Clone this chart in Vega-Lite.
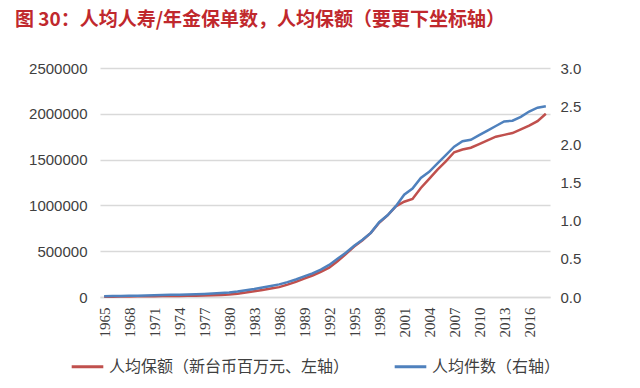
{
  "$schema": "https://vega.github.io/schema/vega-lite/v6.json",
  "width": 450,
  "height": 229,
  "autosize": {"type": "none"},
  "padding": {"left": 100, "top": 68, "right": 90, "bottom": 91},
  "background": "white",
  "title": {
    "text": "图 30：人均人寿/年金保单数，人均保额（要更下坐标轴）",
    "anchor": "start",
    "frame": "group",
    "dx": -85,
    "offset": 31,
    "font": "Noto Sans CJK SC",
    "fontSize": 19,
    "fontWeight": "bold",
    "color": "#c0282d"
  },
  "data": {
    "values": [
      {"year": 1965, "amount": 3000, "count": 0.010},
      {"year": 1966, "amount": 4000, "count": 0.012},
      {"year": 1967, "amount": 5000, "count": 0.014},
      {"year": 1968, "amount": 6000, "count": 0.016},
      {"year": 1969, "amount": 7000, "count": 0.018},
      {"year": 1970, "amount": 8000, "count": 0.020},
      {"year": 1971, "amount": 9000, "count": 0.022},
      {"year": 1972, "amount": 10000, "count": 0.025},
      {"year": 1973, "amount": 11000, "count": 0.028},
      {"year": 1974, "amount": 12000, "count": 0.030},
      {"year": 1975, "amount": 13000, "count": 0.033},
      {"year": 1976, "amount": 15000, "count": 0.036},
      {"year": 1977, "amount": 17000, "count": 0.040},
      {"year": 1978, "amount": 19000, "count": 0.045},
      {"year": 1979, "amount": 22000, "count": 0.052},
      {"year": 1980, "amount": 26000, "count": 0.060},
      {"year": 1981, "amount": 35000, "count": 0.072},
      {"year": 1982, "amount": 48000, "count": 0.088},
      {"year": 1983, "amount": 62000, "count": 0.105},
      {"year": 1984, "amount": 77000, "count": 0.125},
      {"year": 1985, "amount": 92000, "count": 0.145},
      {"year": 1986, "amount": 108000, "count": 0.165},
      {"year": 1987, "amount": 135000, "count": 0.195},
      {"year": 1988, "amount": 165000, "count": 0.230},
      {"year": 1989, "amount": 200000, "count": 0.270},
      {"year": 1990, "amount": 235000, "count": 0.310},
      {"year": 1991, "amount": 275000, "count": 0.360},
      {"year": 1992, "amount": 320000, "count": 0.420},
      {"year": 1993, "amount": 390000, "count": 0.500},
      {"year": 1994, "amount": 470000, "count": 0.580},
      {"year": 1995, "amount": 550000, "count": 0.670},
      {"year": 1996, "amount": 620000, "count": 0.750},
      {"year": 1997, "amount": 700000, "count": 0.840},
      {"year": 1998, "amount": 810000, "count": 0.980},
      {"year": 1999, "amount": 890000, "count": 1.070},
      {"year": 2000, "amount": 990000, "count": 1.190},
      {"year": 2001, "amount": 1040000, "count": 1.340},
      {"year": 2002, "amount": 1070000, "count": 1.420},
      {"year": 2003, "amount": 1190000, "count": 1.560},
      {"year": 2004, "amount": 1290000, "count": 1.640},
      {"year": 2005, "amount": 1390000, "count": 1.750},
      {"year": 2006, "amount": 1480000, "count": 1.860},
      {"year": 2007, "amount": 1580000, "count": 1.970},
      {"year": 2008, "amount": 1610000, "count": 2.040},
      {"year": 2009, "amount": 1630000, "count": 2.060},
      {"year": 2010, "amount": 1670000, "count": 2.120},
      {"year": 2011, "amount": 1710000, "count": 2.180},
      {"year": 2012, "amount": 1750000, "count": 2.240},
      {"year": 2013, "amount": 1770000, "count": 2.300},
      {"year": 2014, "amount": 1790000, "count": 2.310},
      {"year": 2015, "amount": 1830000, "count": 2.360},
      {"year": 2016, "amount": 1870000, "count": 2.430},
      {"year": 2017, "amount": 1920000, "count": 2.480},
      {"year": 2018, "amount": 2000000, "count": 2.500}
    ]
  },
  "encoding": {
    "x": {
      "field": "year",
      "type": "ordinal",
      "scale": {"type": "point", "padding": 0.5},
      "axis": {
        "title": null,
        "values": [1965, 1968, 1971, 1974, 1977, 1980, 1983, 1986, 1989, 1992, 1995, 1998, 2001, 2004, 2007, 2010, 2013, 2016],
        "labelAngle": -90,
        "labelPadding": 10,
        "labelFont": "Liberation Serif",
        "labelFontSize": 15,
        "labelColor": "#404040",
        "ticks": false,
        "domain": true,
        "domainColor": "#d9d9d9",
        "domainWidth": 1.5,
        "grid": false
      }
    }
  },
  "layer": [
    {
      "mark": {"type": "line", "strokeWidth": 2.5},
      "encoding": {
        "y": {
          "field": "amount",
          "type": "quantitative",
          "scale": {"domain": [0, 2500000]},
          "axis": {
            "orient": "left",
            "title": null,
            "values": [0, 500000, 1000000, 1500000, 2000000, 2500000],
            "format": "d",
            "grid": true,
            "gridColor": "#d9d9d9",
            "gridWidth": 1.5,
            "domain": false,
            "ticks": false,
            "labelPadding": 13,
            "labelFont": "Liberation Sans",
            "labelFontSize": 15,
            "labelColor": "#404040"
          }
        },
        "color": {
          "datum": "人均保额（新台币百万元、左轴）",
          "type": "nominal",
          "scale": {
            "domain": ["人均保额（新台币百万元、左轴）", "人均件数（右轴）"],
            "range": ["#c0504d", "#4f81bd"]
          },
          "legend": {
            "title": null,
            "orient": "none",
            "legendX": -30,
            "legendY": 281,
            "direction": "horizontal",
            "symbolType": "stroke",
            "symbolSize": 1000,
            "symbolStrokeWidth": 3,
            "labelFont": "Noto Sans CJK SC",
            "labelFontSize": 16,
            "labelColor": "#404040",
            "labelLimit": 400,
            "labelOffset": 4,
            "columnPadding": 38
          }
        }
      }
    },
    {
      "mark": {"type": "line", "strokeWidth": 2.5},
      "encoding": {
        "y": {
          "field": "count",
          "type": "quantitative",
          "scale": {"domain": [0, 3]},
          "axis": {
            "orient": "right",
            "title": null,
            "values": [0, 0.5, 1, 1.5, 2, 2.5, 3],
            "format": ".1f",
            "grid": false,
            "domain": false,
            "ticks": false,
            "labelPadding": 10,
            "labelFont": "Liberation Sans",
            "labelFontSize": 15,
            "labelColor": "#404040"
          }
        },
        "color": {"datum": "人均件数（右轴）", "type": "nominal"}
      }
    }
  ],
  "resolve": {"scale": {"y": "independent"}},
  "config": {"view": {"stroke": null}}
}
